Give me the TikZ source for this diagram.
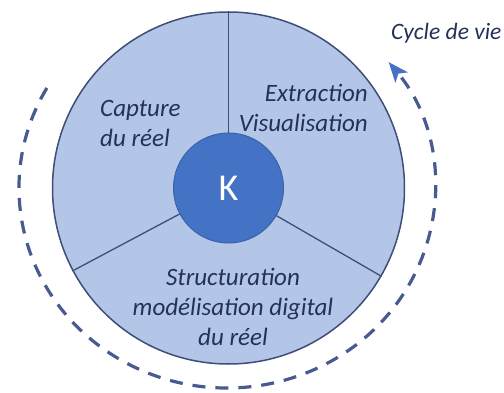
\documentclass[tikz,border=0pt]{standalone}
\usepackage{fontspec}
\setmainfont{Carlito}
\usetikzlibrary{arrows.meta}
\definecolor{ringfill}{HTML}{B4C6E7}
\definecolor{ringline}{HTML}{3E4E78}
\definecolor{kfill}{HTML}{4472C4}
\definecolor{kline}{HTML}{3A62A8}
\definecolor{txt}{HTML}{223258}
\definecolor{dashcol}{HTML}{485A90}
\definecolor{tipcol}{HTML}{4472C4}
\tikzset{
  lbl/.style={font=\fontsize{25}{30}\selectfont\itshape, text=txt, inner sep=0pt},
  spoke/.style={draw=ringline, line width=1.3pt},
}
\begin{document}
\begin{tikzpicture}[x=1pt,y=1pt]
\useasboundingbox (0,0) rectangle (504,392);
% big disc
\coordinate (c) at (228.5,204);
\node[circle, draw=ringline, line width=1.5pt, fill=ringfill, minimum size=352pt, inner sep=0pt] (disc) at (c) {};
\node[circle, fill=kfill, draw=kline, line width=1pt, minimum size=110pt, inner sep=0pt, text=white, font=\fontsize{38}{44}\selectfont] (K) at (c) {K};
% spokes
\draw[spoke] (K.90) -- (disc.90);
\draw[spoke] (K.208) -- (disc.208);
\draw[spoke] (K.330) -- (disc.330);
% labels
\node[lbl, align=left, anchor=west] (cap) at (100,269) {Capture\\du réel};
\node[lbl, align=right, anchor=east] (ext) at (368,284) {Extraction\\Visualisation};
\node[lbl, align=center] (str) at (233,85) {Structuration\\modélisation digital\\du réel};
\node[font=\fontsize{23.5}{28}\selectfont\itshape, text=txt, inner sep=0pt, anchor=west] (cyc) at (391,359) {Cycle de vie};
% dashed life-cycle arc
\coordinate (lc) at (227,204);
\draw[dashcol, line width=3.2pt, dash pattern=on 13pt off 10pt,
      -{Stealth[length=20pt, width=16pt, inset=5pt, color=tipcol]}]
  (lc) ++(150:208 and 200) arc[start angle=150, end angle=399, x radius=208, y radius=200];
\end{tikzpicture}
\end{document}
